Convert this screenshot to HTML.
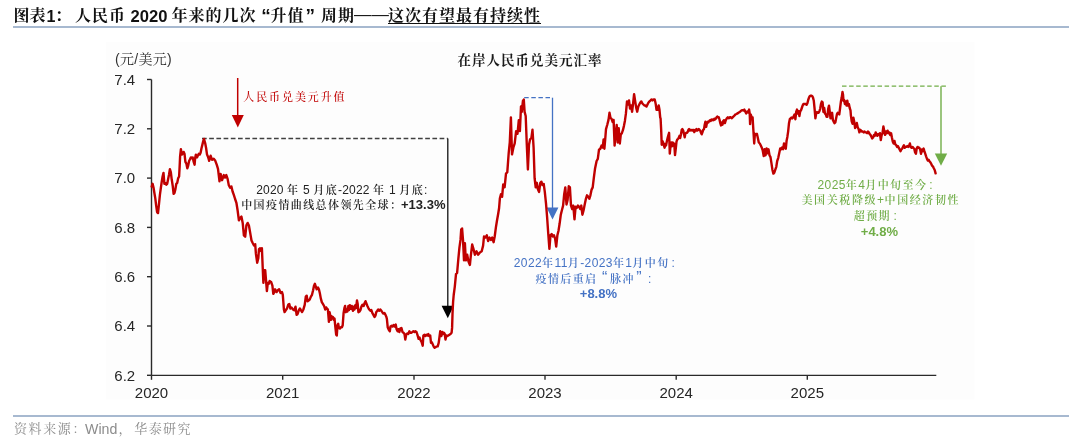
<!DOCTYPE html>
<html lang="zh-CN"><head><meta charset="utf-8">
<style>
html,body{margin:0;padding:0;background:#fff;}
body{width:1080px;height:438px;position:relative;overflow:hidden;}
.t{position:absolute;white-space:nowrap;}
#title span{position:absolute;top:6.2px;white-space:nowrap;color:#111;font-weight:700;line-height:20px;}
#title .c{font-family:"Liberation Sans","Noto Serif CJK SC",serif;font-size:16px;letter-spacing:1px;}
#title .l{font-family:"Liberation Sans",sans-serif;font-size:16px;top:6.6px;}
#title .u{text-decoration:underline;text-underline-offset:1.5px;text-decoration-thickness:1px;}
#hr1{position:absolute;left:13px;top:26px;width:1056px;height:2px;background:#a7b9d0;}
#hr2{position:absolute;left:13px;top:415px;width:1056px;height:2px;background:#a7b9d0;}
.src{position:absolute;top:420.3px;font-size:13.5px;line-height:18px;color:#8c8c8c;white-space:nowrap;}
.src.c{font-family:"Liberation Sans","Noto Serif CJK SC",serif;font-size:13px;letter-spacing:1.6px;}
.src.l{font-family:"Liberation Sans",sans-serif;font-size:14.2px;}
svg{position:absolute;left:0;top:0;}
.ann{position:absolute;white-space:nowrap;font-family:"Liberation Sans","Noto Serif CJK SC",serif;font-weight:600;font-size:11px;letter-spacing:1.4px;line-height:16px;}
.ann b{font-weight:700;letter-spacing:0;font-family:"Liberation Sans",sans-serif;font-size:13px;}
.ann i{font-style:normal;font-weight:400;font-family:"Liberation Sans",sans-serif;font-size:12px;letter-spacing:0.4px;}
.ann i.z{letter-spacing:0.15px;}
.ann i.cl{margin-left:2px;}
.ann i.qa{margin-left:4.6px;margin-right:2.6px;letter-spacing:0;font-size:16px;line-height:10px;}
.ann i.qb{margin-left:1.5px;margin-right:4.4px;letter-spacing:0;font-size:16px;line-height:10px;}
#blk{left:192px;width:300px;top:180.5px;color:#222;}
#blue{left:444px;width:300px;top:254.5px;color:#4472c4;line-height:15.9px;}
#green{left:729px;width:300px;top:175px;color:#70ad47;line-height:16px;}
#redt{position:absolute;left:243.3px;top:88.3px;font-family:"Liberation Sans","Noto Serif CJK SC",serif;font-weight:500;font-size:11px;letter-spacing:1.9px;line-height:18px;color:#c00000;white-space:nowrap;}
#unit i{font-style:normal;font-family:"Liberation Sans",sans-serif;}
#unit{position:absolute;left:115px;top:48.7px;font-family:"Liberation Sans","Noto Serif CJK SC",serif;font-size:14px;letter-spacing:0.3px;line-height:20px;color:#333;white-space:nowrap;}
#ctitle{position:absolute;left:457.5px;top:51px;font-family:"Liberation Sans","Noto Serif CJK SC",serif;font-weight:700;font-size:13.5px;letter-spacing:1px;line-height:20px;color:#1a1a1a;white-space:nowrap;}
</style></head><body>
<div id="title">
<span class="c" style="left:13.5px">图</span><span class="c" style="left:29.5px">表</span><span class="l" style="left:46.5px">1</span><span class="c" style="left:55px">：</span>
<span class="c" style="left:75px">人民币</span><span class="l" style="left:130.5px;font-size:16.6px">2020</span>
<span class="c" style="left:171.5px">年来的几次</span><span class="l" style="left:261.3px;font-size:19px;top:6px">“</span><span class="c" style="left:270.5px">升值</span><span class="l" style="left:305.5px;font-size:19px;top:6px">”</span>
<span class="c" style="left:321px">周期</span><span class="l" style="left:354px;font-size:17.4px;top:4px;font-weight:400">——</span><span class="c u" style="left:388px">这次有望最有持续性</span>
</div>
<div id="hr1"></div>
<svg width="1080" height="438" viewBox="0 0 1080 438">
<rect x="106" y="42" width="868.5" height="357.5" fill="#fdfdfd"/>
<g stroke="#2a2a2a" stroke-width="1.4" fill="none">
<line x1="151.5" y1="79.5" x2="151.5" y2="375.4"/>
<line x1="151.5" y1="375.4" x2="936.3" y2="375.4"/>
<line x1="147" y1="79.5" x2="151.5" y2="79.5"/><line x1="147" y1="128.8" x2="151.5" y2="128.8"/><line x1="147" y1="178.1" x2="151.5" y2="178.1"/><line x1="147" y1="227.4" x2="151.5" y2="227.4"/><line x1="147" y1="276.7" x2="151.5" y2="276.7"/><line x1="147" y1="326.0" x2="151.5" y2="326.0"/><line x1="147" y1="375.3" x2="151.5" y2="375.3"/><line x1="151.5" y1="375.4" x2="151.5" y2="379.8"/><line x1="282.7" y1="375.4" x2="282.7" y2="379.8"/><line x1="414.0" y1="375.4" x2="414.0" y2="379.8"/><line x1="545.0" y1="375.4" x2="545.0" y2="379.8"/><line x1="676.2" y1="375.4" x2="676.2" y2="379.8"/><line x1="807.3" y1="375.4" x2="807.3" y2="379.8"/>
</g>
<g font-family="Liberation Sans, sans-serif" font-size="15" fill="#262626">
<text x="135.2" y="84.8" text-anchor="end">7.4</text><text x="135.2" y="134.1" text-anchor="end">7.2</text><text x="135.2" y="183.4" text-anchor="end">7.0</text><text x="135.2" y="232.7" text-anchor="end">6.8</text><text x="135.2" y="282.0" text-anchor="end">6.6</text><text x="135.2" y="331.3" text-anchor="end">6.4</text><text x="135.2" y="380.6" text-anchor="end">6.2</text><text x="151.5" y="397.8" text-anchor="middle">2020</text><text x="282.7" y="397.8" text-anchor="middle">2021</text><text x="414.0" y="397.8" text-anchor="middle">2022</text><text x="545.0" y="397.8" text-anchor="middle">2023</text><text x="676.2" y="397.8" text-anchor="middle">2024</text><text x="807.3" y="397.8" text-anchor="middle">2025</text>
</g>
<line x1="202" y1="138.5" x2="447.8" y2="138.5" stroke="#404040" stroke-width="1.3" stroke-dasharray="4.7 2.5"/>
<line x1="447.8" y1="138.5" x2="447.8" y2="307" stroke="#111" stroke-width="1.3"/>
<polygon points="441.6,305.8 453.8,305.8 447.8,318.2" fill="#000"/>
<line x1="237.7" y1="78" x2="237.7" y2="116" stroke="#c00000" stroke-width="1.5"/>
<polygon points="231.8,115 243.8,115 237.8,127.6" fill="#c00000"/>
<polyline points="524.2,97.7 552.5,97.7" stroke="#4472c4" stroke-width="1.3" stroke-dasharray="4.5 2.6" fill="none"/>
<line x1="552.5" y1="97.7" x2="552.5" y2="209" stroke="#4472c4" stroke-width="1.3"/>
<polygon points="546.6,207.6 558.4,207.6 552.5,219.6" fill="#4472c4"/>
<line x1="842" y1="86.2" x2="946.6" y2="86.2" stroke="#70ad47" stroke-width="1.3" stroke-dasharray="4.5 2.6"/>
<line x1="941" y1="86.2" x2="941" y2="155" stroke="#70ad47" stroke-width="1.4"/>
<polygon points="934.8,153.6 947.2,153.6 941,165.8" fill="#70ad47"/>
<path d="M151.7,186.6 L152.6,183.8 L153.5,187.5 L154.4,193.0 L155.3,198.4 L156.2,205.8 L157.1,212.1 L158.0,213.1 L159.0,203.9 L159.9,194.8 L160.8,188.4 L161.7,182.0 L162.6,176.5 L163.5,172.9 L164.4,183.8 L165.4,182.9 L166.3,184.7 L167.2,183.8 L168.1,179.3 L169.0,174.7 L169.9,169.2 L170.8,172.0 L171.7,179.3 L172.7,185.7 L173.6,193.9 L174.5,193.0 L175.4,189.3 L176.3,183.8 L177.2,182.9 L178.1,178.4 L179.1,176.5 L179.6,167.4 L180.1,156.4 L180.9,149.1 L181.8,154.6 L182.7,153.7 L183.6,151.9 L184.5,153.7 L185.4,161.9 L186.4,163.7 L187.3,168.3 L188.2,165.6 L189.1,161.0 L190.0,159.2 L190.9,157.4 L191.8,158.3 L192.7,157.4 L193.7,161.9 L194.6,164.7 L195.1,158.3 L195.9,154.6 L197.0,157.4 L197.9,155.5 L198.8,153.7 L199.7,154.6 L200.6,152.8 L201.5,148.2 L202.4,144.6 L203.3,140.9 L204.0,139.0 L205.2,143.3 L206.1,148.0 L207.0,154.4 L208.0,156.7 L209.2,160.8 L210.6,155.7 L212.1,159.8 L213.7,158.7 L215.3,160.8 L216.8,164.9 L218.0,168.8 L219.5,181.4 L220.6,173.9 L222.1,180.2 L223.8,175.1 L225.1,177.6 L226.3,175.1 L227.6,178.9 L228.8,185.2 L230.1,187.7 L231.4,186.4 L232.6,191.5 L233.9,195.2 L235.1,199.0 L236.4,202.8 L237.6,210.3 L238.9,220.4 L240.2,217.8 L241.4,216.6 L242.7,222.9 L243.9,235.4 L245.2,236.7 L246.4,225.4 L247.7,222.9 L248.9,225.4 L250.2,232.9 L251.5,240.5 L252.7,243.0 L254.0,245.5 L255.2,244.2 L255.9,253.7 L257.2,262.8 L258.3,258.3 L259.0,249.1 L260.1,248.2 L261.0,251.0 L261.9,248.2 L262.7,267.4 L263.4,282.9 L264.1,270.1 L265.2,270.1 L266.0,280.2 L266.9,291.1 L267.8,282.9 L268.7,283.8 L269.6,281.1 L271.1,282.0 L272.4,285.7 L273.3,293.9 L274.2,292.1 L275.1,289.3 L276.6,292.1 L277.8,290.2 L279.1,289.3 L280.6,293.0 L282.0,292.1 L282.8,294.8 L283.9,309.4 L284.6,312.1 L285.7,310.3 L287.0,308.5 L288.2,304.8 L289.3,303.9 L290.3,308.5 L291.5,307.6 L293.0,309.4 L294.3,310.3 L295.5,306.7 L296.6,314.9 L297.6,314.0 L298.8,310.3 L299.9,308.5 L301.0,310.3 L302.1,312.1 L303.4,309.4 L304.7,304.8 L305.8,296.6 L306.7,295.7 L307.6,301.2 L308.9,300.3 L309.8,299.4 L310.9,296.6 L312.0,294.8 L313.1,290.2 L314.0,285.7 L314.9,283.8 L315.8,286.6 L316.7,289.3 L318.0,287.5 L318.9,289.3 L319.8,293.0 L320.8,298.4 L321.8,302.1 L322.9,303.9 L324.1,306.0 L325.2,309.5 L326.2,307.4 L327.1,308.8 L327.9,309.5 L328.9,321.8 L329.6,312.2 L330.3,315.6 L331.0,319.7 L331.6,316.3 L332.3,317.7 L333.0,317.0 L333.7,319.7 L334.5,318.4 L335.3,326.6 L336.2,334.8 L336.8,335.5 L337.5,325.2 L338.2,323.8 L338.9,327.9 L339.9,328.6 L340.8,327.3 L341.9,327.3 L342.7,325.2 L343.6,312.9 L344.4,308.1 L345.1,306.0 L345.8,312.2 L346.7,309.5 L347.4,311.5 L348.4,306.0 L349.0,310.1 L349.9,305.3 L350.8,308.8 L351.8,306.0 L352.9,310.8 L353.6,306.7 L354.5,309.5 L355.3,305.3 L356.0,308.1 L357.0,300.5 L357.7,304.0 L358.4,312.2 L359.5,311.5 L360.4,310.1 L361.4,306.7 L362.5,304.7 L363.6,306.0 L364.5,303.3 L365.5,301.2 L366.6,304.0 L367.4,306.0 L368.4,308.1 L369.3,309.5 L370.4,310.8 L371.4,310.1 L372.3,312.9 L373.4,314.9 L374.5,317.0 L375.5,315.6 L376.2,312.2 L377.3,310.8 L378.2,309.5 L379.2,310.8 L380.3,309.5 L381.4,310.8 L382.3,312.2 L383.3,313.6 L384.4,312.9 L385.5,314.9 L386.4,317.0 L386.9,319.0 L387.7,327.2 L388.8,329.9 L389.8,331.3 L390.5,326.5 L391.6,325.8 L392.5,326.5 L393.5,325.1 L394.6,326.5 L395.7,324.5 L396.6,329.2 L397.6,331.3 L398.4,329.2 L399.4,332.0 L400.3,328.6 L401.4,327.9 L402.5,332.0 L403.5,332.7 L404.5,334.0 L405.3,339.5 L406.2,334.7 L407.2,333.4 L408.3,334.0 L409.4,331.3 L410.3,332.7 L411.3,332.7 L412.4,332.0 L413.4,331.3 L414.5,332.0 L415.4,331.3 L416.5,332.0 L417.6,335.4 L418.6,338.8 L419.5,337.5 L420.6,340.2 L421.7,342.3 L422.7,345.7 L423.4,335.4 L424.5,334.7 L425.4,336.1 L426.4,334.7 L427.5,335.4 L428.3,334.0 L429.1,336.1 L430.2,335.4 L431.0,342.9 L431.8,342.3 L432.7,344.3 L433.6,346.4 L434.6,347.7 L435.7,347.1 L436.8,346.4 L437.7,346.4 L438.7,342.9 L439.5,336.8 L440.2,331.3 L440.9,334.0 L441.4,336.1 L442.3,332.0 L443.1,334.0 L443.9,332.7 L444.7,334.0 L445.5,339.5 L446.4,335.4 L447.3,336.1 L448.3,335.4 L449.4,334.7 L450.5,334.0 L451.6,332.7 L452.1,327.9 L452.5,314.2 L453.1,301.8 L453.7,295.0 L454.8,286.6 L456.0,274.1 L457.1,273.0 L458.3,259.3 L459.4,247.9 L460.5,239.9 L461.2,229.6 L462.1,228.5 L463.0,239.9 L464.0,260.4 L464.9,243.3 L465.8,260.4 L467.2,254.7 L468.5,261.6 L469.9,265.0 L470.8,255.9 L472.2,244.5 L473.5,249.0 L474.9,254.7 L476.5,251.3 L478.1,254.7 L479.9,252.4 L481.7,251.3 L483.1,245.6 L484.0,236.5 L485.4,237.6 L486.8,235.3 L488.1,241.0 L489.5,237.6 L490.9,239.9 L492.2,237.6 L493.6,242.2 L494.7,236.5 L495.9,227.4 L497.0,220.5 L498.2,213.7 L499.1,208.0 L499.9,198.2 L501.0,194.1 L502.1,196.8 L503.2,184.5 L504.6,187.3 L506.0,173.6 L507.3,172.2 L508.7,153.0 L509.8,142.1 L510.9,117.4 L512.0,154.4 L513.4,147.5 L514.7,143.4 L516.1,131.1 L517.5,133.8 L518.8,120.1 L519.9,131.1 L521.0,106.4 L521.8,111.9 L522.9,101.0 L523.8,99.6 L524.6,111.9 L525.7,116.0 L526.8,144.8 L527.9,169.5 L529.0,144.8 L530.1,139.3 L531.4,138.0 L532.5,129.7 L533.6,147.5 L534.6,178.2 L535.7,187.4 L536.8,182.8 L538.0,189.6 L539.1,191.9 L540.3,182.8 L541.4,181.7 L542.5,185.1 L543.7,183.9 L544.8,191.9 L546.0,203.3 L547.1,217.0 L548.2,233.0 L549.4,248.9 L550.5,235.2 L551.7,234.1 L552.8,236.4 L553.9,235.2 L555.1,238.7 L556.2,246.6 L557.4,235.2 L558.5,230.7 L559.6,223.8 L560.8,214.7 L561.9,210.2 L563.1,205.6 L564.2,194.2 L565.3,187.4 L566.5,204.5 L567.6,199.9 L568.8,186.2 L569.9,187.4 L571.0,205.6 L572.2,209.0 L573.3,205.6 L574.5,219.3 L575.6,206.7 L576.7,207.9 L577.9,205.6 L579.0,206.7 L580.2,209.0 L581.3,205.6 L582.4,214.7 L583.6,210.2 L584.7,204.5 L585.9,198.8 L587.0,195.3 L588.1,196.5 L589.3,198.8 L590.4,195.3 L591.6,189.6 L592.7,187.4 L593.8,178.2 L595.1,168.2 L596.6,161.0 L597.8,158.9 L599.0,149.7 L600.3,148.7 L601.5,145.6 L602.7,147.6 L603.6,139.4 L604.4,148.7 L605.2,139.4 L606.0,129.1 L607.2,125.0 L608.5,119.9 L609.5,112.7 L610.5,117.9 L611.6,118.9 L612.6,122.0 L613.6,119.9 L614.6,145.6 L615.7,134.3 L616.7,125.0 L617.7,142.5 L618.7,128.1 L619.8,143.5 L620.8,134.3 L621.8,133.3 L622.9,130.2 L623.9,126.1 L624.9,120.9 L625.9,113.7 L627.0,101.4 L628.0,104.5 L629.0,100.4 L630.0,108.6 L631.1,105.5 L632.1,111.7 L633.1,103.5 L634.1,94.2 L635.2,101.4 L636.2,107.6 L637.2,111.7 L638.3,106.6 L639.3,104.5 L640.3,102.5 L641.3,101.4 L642.4,103.5 L643.4,104.5 L644.4,105.5 L645.4,105.5 L646.5,106.6 L647.5,104.5 L648.5,102.5 L649.5,101.4 L650.6,100.4 L651.6,99.4 L652.6,100.4 L653.7,99.4 L654.7,99.4 L655.3,102.0 L655.7,103.9 L656.5,109.8 L657.2,106.9 L658.0,109.8 L658.7,105.4 L659.5,109.8 L660.2,117.3 L660.6,118.7 L661.2,130.6 L661.7,144.7 L662.4,141.0 L663.2,142.5 L663.9,145.4 L664.6,147.7 L665.4,144.0 L666.1,145.4 L666.9,141.0 L667.6,138.0 L668.4,135.1 L669.1,132.8 L669.8,153.6 L670.6,145.4 L671.3,142.5 L672.1,146.2 L672.8,142.5 L673.5,143.2 L674.3,144.0 L675.0,155.1 L675.8,148.4 L676.5,141.7 L677.3,139.5 L678.0,138.8 L678.7,138.0 L679.5,135.8 L680.2,138.0 L681.0,134.3 L681.7,129.9 L682.4,129.1 L683.2,130.6 L683.9,133.6 L684.7,137.3 L685.4,133.6 L686.2,132.8 L686.9,132.8 L687.6,132.1 L688.4,129.9 L689.1,129.1 L689.9,130.6 L690.6,129.9 L691.3,129.9 L692.1,130.6 L692.8,129.9 L693.6,129.9 L694.3,132.1 L695.1,129.9 L695.8,130.6 L696.5,129.1 L697.3,130.6 L698.0,129.9 L698.8,129.1 L699.5,129.9 L700.3,130.6 L701.0,132.8 L701.7,134.3 L702.5,132.1 L703.2,129.9 L704.0,129.1 L704.7,124.7 L705.4,121.7 L706.2,126.9 L706.9,123.2 L707.7,121.7 L708.4,122.4 L709.2,121.0 L709.9,120.2 L710.6,121.0 L711.4,119.5 L712.1,120.2 L712.9,119.5 L713.6,120.2 L714.3,118.7 L715.1,119.5 L715.8,118.7 L716.6,117.3 L717.3,116.5 L718.1,117.3 L718.8,117.3 L719.5,119.5 L720.3,123.2 L721.0,125.4 L721.8,122.4 L722.5,124.7 L723.2,121.0 L724.0,120.2 L724.9,123.1 L725.8,120.2 L726.8,118.3 L727.8,117.3 L728.7,118.3 L729.7,117.3 L730.7,117.3 L731.6,118.3 L732.6,117.3 L733.6,116.3 L734.6,115.4 L735.5,114.4 L736.5,114.0 L737.5,113.4 L738.4,112.9 L739.4,112.1 L740.4,111.5 L741.3,110.5 L742.3,110.1 L743.3,110.5 L744.3,109.6 L745.2,111.5 L746.2,113.4 L747.2,111.5 L748.1,112.5 L749.1,109.6 L749.7,113.4 L750.1,124.1 L750.7,114.4 L751.4,116.3 L752.0,118.3 L752.6,117.3 L753.0,124.1 L753.6,133.8 L754.2,143.5 L754.9,133.8 L755.9,134.8 L756.9,133.8 L757.8,137.7 L758.8,142.5 L759.8,143.5 L760.8,145.5 L761.7,147.4 L762.7,150.3 L763.7,156.1 L764.6,149.3 L765.6,155.2 L766.6,148.4 L767.5,153.2 L768.5,149.3 L769.5,155.2 L770.5,157.1 L771.4,162.9 L772.4,169.7 L773.4,173.6 L774.3,172.6 L775.3,169.7 L776.3,166.8 L777.2,161.0 L778.2,158.1 L779.2,153.2 L780.2,148.4 L781.1,149.3 L782.1,147.4 L783.1,149.3 L784.0,143.5 L785.0,147.4 L785.8,148.7 L786.6,140.7 L787.4,136.7 L788.2,131.1 L789.0,123.2 L789.8,119.2 L790.6,118.4 L791.4,117.6 L792.2,118.4 L793.0,117.6 L793.8,116.0 L794.6,114.4 L795.4,119.2 L796.2,112.0 L797.0,109.6 L797.8,113.6 L798.6,111.2 L799.4,116.0 L800.2,111.2 L801.0,110.4 L801.8,108.0 L802.6,105.6 L803.4,104.0 L804.2,104.0 L805.0,104.0 L805.8,104.0 L806.6,104.8 L807.4,103.2 L808.2,100.0 L809.0,97.6 L809.8,96.0 L810.6,95.7 L811.4,95.7 L812.2,96.0 L813.0,97.6 L813.8,100.8 L814.6,108.8 L815.4,118.4 L816.2,113.6 L817.0,112.0 L817.8,112.8 L818.6,112.8 L819.4,111.2 L820.2,108.8 L821.0,104.0 L821.8,101.6 L822.6,102.4 L823.4,112.0 L824.2,108.0 L825.0,113.6 L825.8,114.4 L826.6,116.8 L827.4,116.8 L828.2,108.8 L829.0,105.6 L829.8,112.0 L830.5,118.4 L831.3,115.2 L832.1,112.8 L832.9,120.0 L833.7,121.6 L834.5,123.2 L835.3,122.4 L836.1,118.4 L836.9,114.4 L837.7,112.8 L838.5,113.6 L839.3,114.4 L840.1,108.0 L840.9,101.6 L841.7,97.6 L842.5,92.0 L843.0,94.4 L843.5,100.8 L844.1,100.0 L844.9,104.0 L845.7,101.6 L846.5,105.6 L847.3,100.8 L848.1,105.6 L848.9,104.0 L849.7,108.0 L850.5,110.4 L850.9,115.3 L851.7,121.3 L852.6,123.8 L853.4,117.8 L854.3,122.1 L855.1,128.1 L856.0,125.5 L856.8,123.0 L857.7,127.2 L858.6,129.0 L859.4,132.4 L860.3,129.8 L861.1,130.7 L862.0,131.5 L862.8,131.5 L863.7,132.4 L864.5,131.5 L865.4,132.4 L866.3,132.4 L867.1,133.2 L868.0,131.5 L868.8,132.4 L869.7,134.1 L870.5,134.9 L871.4,136.7 L872.2,138.4 L873.1,137.5 L874.0,134.9 L874.8,135.8 L875.7,132.4 L876.5,134.9 L877.4,135.8 L878.2,134.1 L879.1,134.9 L879.9,133.2 L880.8,140.1 L881.7,134.9 L882.5,133.2 L883.4,126.4 L884.2,130.7 L885.1,134.9 L885.9,131.5 L886.8,133.2 L887.6,130.7 L888.5,133.2 L889.4,132.4 L890.2,134.9 L891.1,133.2 L891.9,137.5 L892.8,141.8 L893.6,143.5 L894.5,140.9 L895.3,144.4 L896.2,145.2 L897.1,146.9 L897.9,146.1 L898.8,147.8 L899.6,149.5 L900.5,151.2 L901.3,149.5 L902.2,148.6 L903.0,146.9 L903.9,145.2 L904.8,147.8 L905.6,146.9 L906.5,146.9 L907.3,146.1 L908.2,146.9 L909.0,146.1 L909.9,143.5 L910.7,146.9 L911.6,147.8 L912.5,146.9 L913.3,147.8 L914.2,148.6 L915.0,152.1 L915.9,153.8 L916.7,148.6 L917.6,146.9 L918.4,147.8 L919.3,147.8 L920.2,149.5 L921.0,153.8 L921.9,149.5 L922.7,151.2 L923.6,148.6 L924.4,151.2 L925.3,153.8 L926.1,156.3 L927.0,158.9 L927.9,160.6 L928.7,159.8 L929.6,161.5 L930.4,162.3 L931.3,164.0 L932.1,165.7 L933.0,166.6 L933.8,168.3 L934.7,170.0 L935.6,173.4" fill="none" stroke="#c00000" stroke-width="2.4" stroke-linejoin="round" stroke-linecap="round"/>
</svg>
<div id="unit"><i>(</i>元<i>/</i>美元<i>)</i></div>
<div id="ctitle">在岸人民币兑美元汇率</div>
<div id="redt">人民币兑美元升值</div>
<div class="ann" style="left:256.3px;top:181.5px;color:#222"><i class="z">2020 </i>年<i class="z"> 5 </i>月底<i class="z">-2022 </i>年<i class="z"> 1 </i>月底<i class="z">:</i></div>
<div class="ann" style="left:241.2px;top:197.2px;color:#222">中国疫情曲线总体领先全球：<b style="margin-left:-1.4px">+13.3%</b></div>
<div class="ann" style="left:513.8px;top:255.3px;color:#4472c4"><i>2022</i>年<i>11</i>月<i>-2023</i>年<i>1</i>月中旬<i class="cl">:</i></div>
<div class="ann" style="left:535.5px;top:271px;color:#4472c4">疫情后重启<i class="qa">“</i>脉冲<i class="qb">”</i><i class="cl">:</i></div>
<div class="ann" style="left:579.8px;top:286.3px;color:#4472c4"><b>+8.8%</b></div>
<div class="ann" style="left:817.5px;top:176.5px;color:#70ad47"><i>2025</i>年<i>4</i>月中旬至今<i class="cl">:</i></div>
<div class="ann" style="left:801.5px;top:191.7px;color:#70ad47;letter-spacing:1.6px">美国关税降级<i>+</i>中国经济韧性</div>
<div class="ann" style="left:853.8px;top:207.9px;color:#70ad47">超预期<i class="cl" style="margin-left:2.5px">:</i></div>
<div class="ann" style="left:860.8px;top:223.5px;color:#70ad47"><b>+4.8%</b></div>
<div id="hr2"></div>
<div class="src c" style="left:14px">资料来源：</div><div class="src l" style="left:85px">Wind</div><div class="src c" style="left:118.5px">，</div><div class="src c" style="left:134.3px;letter-spacing:1.4px">华泰研究</div>
</body></html>
